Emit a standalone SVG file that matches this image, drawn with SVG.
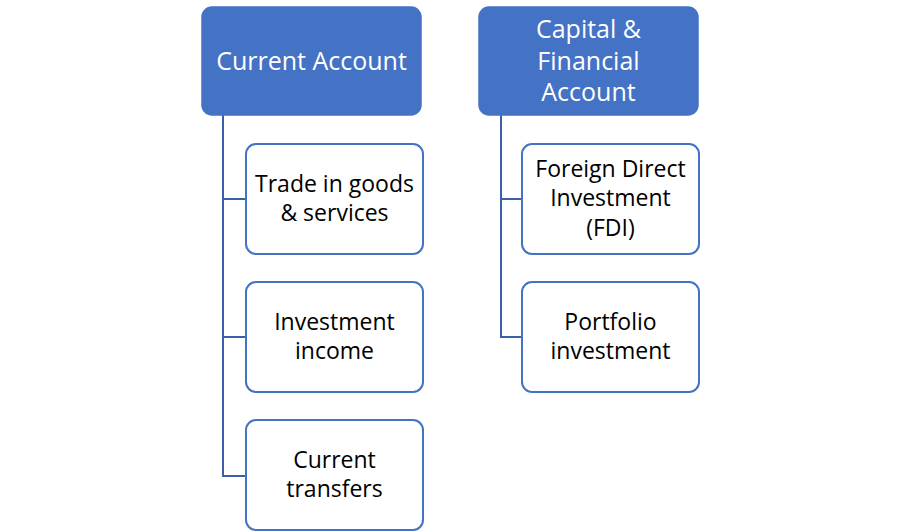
<svg xmlns="http://www.w3.org/2000/svg" width="900" height="532" viewBox="0 0 900 532">
<style>
.parent{fill:#4472C4;stroke:#4472C4;stroke-width:1.5}
.child{fill:#FFFFFF;stroke:#4472C4;stroke-width:2}
.pt{font-family:"Open Sans","Liberation Sans",sans-serif;font-size:25px;fill:#FFFFFF;text-anchor:middle}
.ct{font-family:"Open Sans","Liberation Sans",sans-serif;font-size:23px;fill:#000000;text-anchor:middle}
.conn{fill:none;stroke:#3B5FA8;stroke-width:2}
</style>
<rect width="900" height="532" fill="#FFFFFF"/>
<g id="connectors">
<path class="conn" d="M223,115 V476 H246 M223,199 H246 M223,337 H246"/>
<path class="conn" d="M501,115 V337 H522 M501,199 H522"/>
</g>
<g id="current-account">
<rect class="parent" x="202" y="7" width="219" height="108" rx="10"/>
<text class="pt" x="311.5" y="70">Current Account</text>
</g>
<g id="capital-financial-account">
<rect class="parent" x="479" y="7" width="219" height="108" rx="10"/>
<text class="pt" x="588.5" y="38">Capital &amp;</text>
<text class="pt" x="588.5" y="70">Financial</text>
<text class="pt" x="588.5" y="101">Account</text>
</g>
<g id="trade">
<rect class="child" x="246" y="144" width="177" height="110" rx="10"/>
<text class="ct" x="334.5" y="192">Trade in goods</text>
<text class="ct" x="334.5" y="221">&amp; services</text>
</g>
<g id="investment-income">
<rect class="child" x="246" y="282" width="177" height="110" rx="10"/>
<text class="ct" x="334.5" y="330">Investment</text>
<text class="ct" x="334.5" y="359">income</text>
</g>
<g id="current-transfers">
<rect class="child" x="246" y="420" width="177" height="110" rx="10"/>
<text class="ct" x="334.5" y="468">Current</text>
<text class="ct" x="334.5" y="497">transfers</text>
</g>
<g id="fdi">
<rect class="child" x="522" y="144" width="177" height="110" rx="10"/>
<text class="ct" x="610.5" y="177">Foreign Direct</text>
<text class="ct" x="610.5" y="206">Investment</text>
<text class="ct" x="610.5" y="236">(FDI)</text>
</g>
<g id="portfolio">
<rect class="child" x="522" y="282" width="177" height="110" rx="10"/>
<text class="ct" x="610.5" y="330">Portfolio</text>
<text class="ct" x="610.5" y="359">investment</text>
</g>
</svg>
